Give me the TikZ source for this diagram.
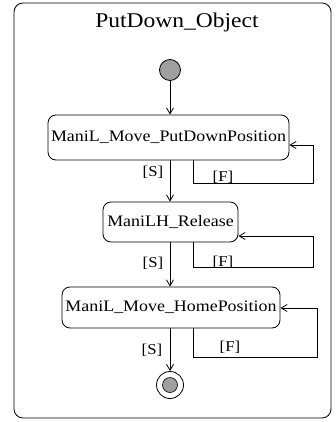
\documentclass[tikz,border=0pt]{standalone}
\usepackage{fontspec}
\setmainfont{Liberation Serif}[FakeStretch=1.12]
\usetikzlibrary{arrows.meta}
\begin{document}
\begin{tikzpicture}[x=1pt,y=-1pt,
  statebox/.style={draw,rounded corners=8pt,line width=0.8pt,inner sep=0pt,font=\fontsize{16}{18}\selectfont},
  arr/.style={draw,line width=0.8pt,-{Straight Barb[length=6pt,width=7pt]}},
  lbl/.style={font=\fontsize{15}{17}\selectfont,inner sep=1pt}]
\useasboundingbox (0,0) rectangle (336,422);
\draw[line width=0.8pt,rounded corners=9pt] (14,3) rectangle (331,418);
\node[font=\fontsize{21}{24}\selectfont] (title) at (177,22) {PutDown\_Object};
\node[circle,draw,fill=gray!75,minimum size=21pt,inner sep=0pt,line width=0.8pt] (init) at (170,70) {};
\node[statebox,minimum width=241pt,minimum height=45pt] (s1) at (168.5,137.5) {ManiL\_Move\_PutDownPosition};
\node[statebox,minimum width=135pt,minimum height=40pt] (s2) at (170.5,222) {ManiLH\_Release};
\node[statebox,minimum width=218pt,minimum height=41pt] (s3) at (171,307.5) {ManiL\_Move\_HomePosition};
\node[circle,draw,fill=white,minimum size=27pt,inner sep=0pt,line width=0.8pt] (fin) at (170,385) {};
\node[circle,fill=gray!75,draw,minimum size=15pt,inner sep=0pt,line width=0.6pt] (finin) at (fin) {};
% S transitions
\draw[arr] (init) -- (init |- s1.north);
\draw[arr] (s1.south -| 170,0) -- (s2.north -| 170,0);
\draw[arr] (s2.south -| 170,0) -- (s3.north -| 170,0);
\draw[arr] (s3.south -| 170,0) -- (fin);
\node[lbl] (l1) at (153,172) {[S]};
\node[lbl] (l2) at (153,263) {[S]};
\node[lbl] (l3) at (152,350) {[S]};
% F self loops
\draw[arr] (s1.south -| 193,0) -- (193,183) -- (313,183) -- (313,145) -- (s1.east |- 0,145);
\draw[arr] (s2.south -| 193,0) -- (193,267) -- (313,267) -- (313,236) -- (s2.east |- 0,236);
\draw[arr] (s3.south -| 193,0) -- (193,357) -- (317,357) -- (317,308) -- (s3.east |- 0,308);
\node[lbl] (f1) at (223,177) {[F]};
\node[lbl] (f2) at (223,262) {[F]};
\node[lbl] (f3) at (230,347) {[F]};
\end{tikzpicture}
\end{document}
